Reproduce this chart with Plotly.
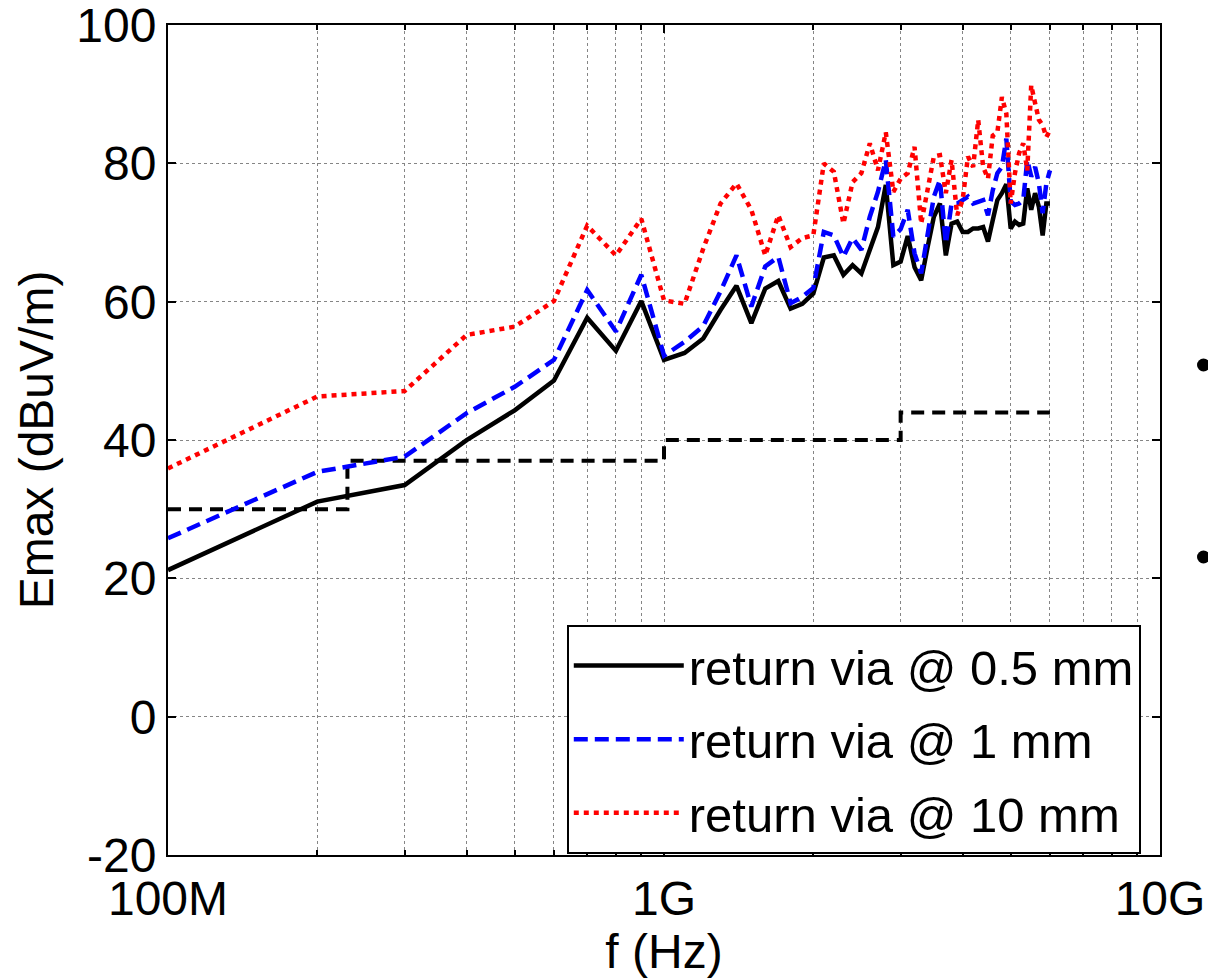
import plotly.graph_objects as go

# ---- data ----
freq_ghz = [0.1, 0.2, 0.3, 0.4, 0.5, 0.6, 0.7, 0.8, 0.9, 1.0,
            1.1, 1.2, 1.3, 1.4, 1.5, 1.6, 1.7, 1.8, 1.9, 2.0,
            2.1, 2.2, 2.3, 2.4, 2.5, 2.6, 2.7, 2.8, 2.9, 3.0,
            3.1, 3.2, 3.3, 3.4, 3.5, 3.6, 3.7, 3.8, 3.9, 4.0,
            4.1, 4.2, 4.3, 4.4, 4.5, 4.6, 4.7, 4.8, 4.9, 5.0,
            5.1, 5.2, 5.3, 5.4, 5.5, 5.6, 5.7, 5.8, 5.9, 6.0]

emax_05mm = [21.2, 31.1, 33.5, 40.0, 44.3, 48.6, 57.7, 52.9, 60.1, 51.6,
             52.6, 54.7, 58.8, 62.3, 56.9, 61.9, 63.0, 59.0, 59.7, 61.2,
             66.4, 66.7, 63.9, 65.3, 64.1, 67.7, 70.8, 76.9, 65.3, 65.8,
             69.5, 65.0, 63.1, 67.9, 72.3, 74.2, 66.7, 71.3, 71.6, 70.1,
             70.1, 70.6, 70.6, 70.8, 68.7, 71.8, 74.7, 75.7, 77.0, 70.6,
             71.6, 71.1, 71.3, 76.4, 73.3, 75.7, 73.7, 69.6, 74.2, 74.2]

emax_1mm = [25.8, 35.4, 37.6, 43.9, 47.7, 51.6, 61.7, 55.7, 63.9, 52.2,
            54.2, 56.5, 61.5, 66.7, 59.3, 65.1, 66.5, 59.8, 60.7, 62.0,
            70.1, 69.6, 66.5, 69.2, 67.5, 72.3, 75.9, 80.5, 69.4, 70.5,
            73.3, 67.0, 64.1, 69.9, 75.2, 77.6, 68.4, 74.2, 74.2, 74.7,
            75.2, 74.2, 74.5, 74.7, 72.5, 76.1, 78.6, 79.5, 83.6, 74.5,
            74.0, 74.2, 74.7, 80.5, 78.1, 79.5, 77.1, 72.8, 77.1, 79.0]

emax_10mm = [35.9, 46.3, 47.1, 55.2, 56.4, 60.1, 71.0, 66.7, 72.0, 60.2,
             59.7, 67.7, 74.2, 77.1, 73.3, 66.7, 72.5, 67.9, 69.2, 69.6,
             80.0, 78.8, 71.3, 77.3, 78.6, 82.9, 79.0, 84.5, 75.9, 77.8,
             78.6, 82.4, 71.3, 76.6, 81.0, 81.2, 75.7, 80.5, 72.5, 74.7,
             81.0, 79.5, 86.3, 79.5, 77.8, 84.0, 84.5, 89.6, 87.2, 74.2,
             78.6, 81.5, 82.9, 79.0, 91.3, 88.7, 86.3, 85.5, 83.8, 84.8]

limit_freq_ghz = [0.1, 0.23, 1.0, 3.0, 6.0]
limit_dbuv = [30, 37, 40, 44, 44]

x_tick_vals = [1e8, 1e9, 1e10]
x_tick_text = ["100M", "1G", "10G"]
x_minor_vals = [2e8, 3e8, 4e8, 5e8, 6e8, 7e8, 8e8, 9e8,
                2e9, 3e9, 4e9, 5e9, 6e9, 7e9, 8e9, 9e9]
y_tick_vals = [-20, 0, 20, 40, 60, 80, 100]
y_tick_text = ["-20", "0", "20", "40", "60", "80", "100"]

names = ["return via @ 0.5 mm", "return via @ 1 mm", "return via @ 10 mm"]

freq_hz = [f * 1e9 for f in freq_ghz]
limit_hz = [f * 1e9 for f in limit_freq_ghz]

FONT = "Liberation Sans, Arial, sans-serif"

fig = go.Figure()
fig.add_trace(go.Scatter(x=limit_hz, y=limit_dbuv, mode="lines", line_shape="hv",
                         line=dict(color="black", width=4, dash="13px,8px"),
                         showlegend=False, hoverinfo="skip"))
fig.add_trace(go.Scatter(x=freq_hz, y=emax_05mm, mode="lines", name=names[0],
                         legendgroup="a",
                         line=dict(color="black", width=4.5)))
fig.add_trace(go.Scatter(x=freq_hz, y=emax_1mm, mode="lines", name=names[1],
                         legendgroup="b",
                         line=dict(color="#0000ff", width=4.5, dash="14px,7px")))
fig.add_trace(go.Scatter(x=freq_hz, y=emax_10mm, mode="lines", name=names[2],
                         legendgroup="c",
                         line=dict(color="#ff0000", width=4.5, dash="5px,5px")))

grid_col = "#858585"

fig.update_xaxes(
    type="log", range=[8, 10],
    tickmode="array", tickvals=x_tick_vals, ticktext=x_tick_text,
    ticks="inside", ticklen=8, tickwidth=1.5, tickcolor="black",
    mirror="allticks", showline=True, linecolor="black", linewidth=2,
    showgrid=True, gridcolor=grid_col, gridwidth=1, griddash="dot",
    minor=dict(tickmode="array", tickvals=x_minor_vals, ticks="inside",
               ticklen=5, tickcolor="black", showgrid=True,
               gridcolor=grid_col, gridwidth=1, griddash="dot"),
    tickfont=dict(family=FONT, size=48, color="black"),
    ticklabeloverflow="allow",
    title=dict(text="f (Hz)", font=dict(family=FONT, size=48, color="black"),
               standoff=4),
    zeroline=False,
)
fig.update_yaxes(
    range=[-20, 100.02], tickmode="array", tickvals=y_tick_vals, ticktext=y_tick_text,
    ticks="inside", ticklen=8, tickwidth=1.5, tickcolor="black",
    mirror="allticks", showline=True, linecolor="black", linewidth=2,
    showgrid=True, gridcolor=grid_col, gridwidth=1, griddash="dot",
    tickfont=dict(family=FONT, size=48, color="black"),
    ticklabeloverflow="allow",
    title=dict(text="Emax (dBuV/m)", font=dict(family=FONT, size=48, color="black"),
               standoff=8),
    zeroline=False,
)

fig.update_layout(
    width=1208, height=980,
    margin=dict(l=168, r=48, t=25, b=125, autoexpand=False),
    plot_bgcolor="white", paper_bgcolor="white",
    font=dict(family=FONT, size=48, color="black"),
    legend=dict(x=0.402, y=0.277, xanchor="left", yanchor="top",
                bgcolor="white", bordercolor="black", borderwidth=2,
                font=dict(family=FONT, size=49, color="black"),
                tracegroupgap=7, itemwidth=110),
    showlegend=True,
)

# partial bullets from the slide at the right edge
for py in [365, 557]:
    fig.add_shape(type="circle", xref="paper", yref="paper",
                  x0=(1197 - 168) / 992, x1=(1210 - 168) / 992,
                  y0=(855 - (py + 6.5)) / 830, y1=(855 - (py - 6.5)) / 830,
                  fillcolor="black", line=dict(color="black", width=0))

fig.write_html("out.html")
